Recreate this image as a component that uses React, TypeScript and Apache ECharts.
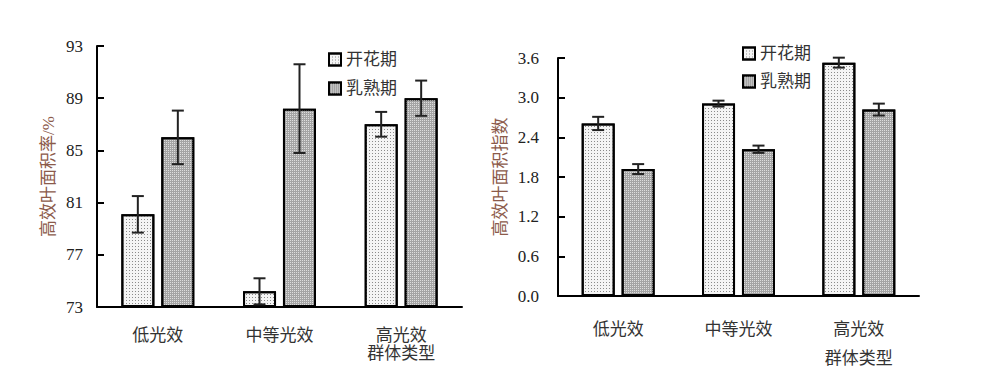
import React, { useEffect, useRef } from "react";
import * as echarts from "echarts";

const categories = ["低光效", "中等光效", "高光效"];
const seriesNames = ["开花期", "乳熟期"];

// Left chart: 高效叶面积率/%
const rateTicks = [73, 77, 81, 85, 89, 93];
const rateFlower = [80.1, 74.2, 87.0];
const rateFlowerErr = [1.4, 1.0, 0.95];
const rateMilk = [86.0, 88.2, 89.0];
const rateMilkErr = [2.05, 3.4, 1.35];

// Right chart: 高效叶面积指数
const indexTicks = [0.0, 0.6, 1.2, 1.8, 2.4, 3.0, 3.6];
const indexFlower = [2.61, 2.91, 3.53];
const indexFlowerErr = [0.1, 0.045, 0.075];
const indexMilk = [1.92, 2.22, 2.82];
const indexMilkErr = [0.075, 0.055, 0.09];

const SERIF = "Times New Roman, Liberation Serif, DejaVu Serif, serif";
const CJK = "Times New Roman, Liberation Serif, Noto Sans CJK SC, serif";

export default function App() {
  const ref = useRef<HTMLDivElement>(null);
  useEffect(() => {
    document.body.style.margin = "0";
    const chart = echarts.init(ref.current!, null, { renderer: "svg" });
    const base = rateTicks[0];
    const BAR_W = 33;
    const OFF = 20;

    const flowerStyle = {
      color: "#f4f4f4",
      borderColor: "#000",
      borderWidth: 2,
      decal: {
        symbol: "rect",
        symbolSize: 1,
        color: "#8a8a8a",
        dashArrayX: [1, 2],
        dashArrayY: [1, 2],
        rotation: 0,
      },
    };
    const milkStyle = {
      color: "#a4a4a4",
      borderColor: "#000",
      borderWidth: 2,
      decal: {
        symbol: "rect",
        symbolSize: 1,
        color: "#dedede",
        dashArrayX: [1, 1],
        dashArrayY: [1, 1],
        rotation: 0,
      },
    };

    const errSeries = (
      vals: number[],
      errs: number[],
      shift: number,
      offset: number,
      axisIdx: number
    ) => ({
      type: "custom",
      xAxisIndex: axisIdx,
      yAxisIndex: axisIdx,
      z: 10,
      silent: true,
      data: vals.map((v, i) => [i, v - shift, errs[i]]),
      renderItem: (params: any, api: any) => {
        const x = api.value(0);
        const v = api.value(1);
        const e = api.value(2);
        const top = api.coord([x, v + e]);
        const bot = api.coord([x, v - e]);
        const px = top[0] + offset;
        const cap = 6;
        const style = { stroke: "#222", lineWidth: 2 };
        return {
          type: "group",
          children: [
            { type: "line", shape: { x1: px, y1: top[1], x2: px, y2: bot[1] }, style },
            { type: "line", shape: { x1: px - cap, y1: top[1], x2: px + cap, y2: top[1] }, style },
            { type: "line", shape: { x1: px - cap, y1: bot[1], x2: px + cap, y2: bot[1] }, style },
          ],
        };
      },
    });

    const catAxis = (gridIndex: number, lineHeight: number) => ({
      type: "category",
      gridIndex,
      data: categories.map((c, i) => (i === 2 ? c + "\n群体类型" : c)),
      axisLine: { show: true, lineStyle: { color: "#000", width: 2 } },
      axisTick: { show: false },
      axisLabel: {
        margin: 19,
        fontSize: 17,
        color: "#333",
        fontFamily: CJK,
        lineHeight,
      },
    });

    const legendText = { fontSize: 17, color: "#333", fontFamily: CJK };

    chart.setOption({
      animation: false,
      legend: [
        {
          data: seriesNames,
          orient: "vertical",
          left: 328,
          top: 51,
          padding: 0,
          itemWidth: 12,
          itemHeight: 12,
          itemGap: 12,
          icon: "rect",
          textStyle: legendText,
          selectedMode: false,
        },
        {
          data: seriesNames,
          orient: "vertical",
          left: 742,
          top: 45,
          padding: 0,
          itemWidth: 12,
          itemHeight: 12,
          itemGap: 11,
          icon: "rect",
          textStyle: legendText,
          selectedMode: false,
        },
      ],
      grid: [
        { left: 97, top: 46, width: 365, height: 261, outerBoundsMode: "none", containLabel: false },
        { left: 558, top: 58, width: 361, height: 238, outerBoundsMode: "none", containLabel: false },
      ],
      xAxis: [catAxis(0, 18), catAxis(1, 29)],
      yAxis: [
        {
          type: "value",
          gridIndex: 0,
          min: 0,
          max: rateTicks[rateTicks.length - 1] - base,
          interval: rateTicks[1] - rateTicks[0],
          name: "高效叶面积率/%",
          nameLocation: "middle",
          nameGap: 40,
          nameTextStyle: { fontSize: 17, color: "#8b5a4a", fontFamily: CJK },
          axisLine: { show: true, lineStyle: { color: "#000", width: 2 } },
          axisTick: { show: true, inside: true, length: 7, lineStyle: { color: "#000", width: 2 } },
          splitLine: { show: false },
          axisLabel: {
            fontSize: 17,
            color: "#222",
            fontFamily: SERIF,
            margin: 14,
            formatter: (v: number) => String(Math.round(v + base)),
          },
        },
        {
          type: "value",
          gridIndex: 1,
          min: indexTicks[0],
          max: indexTicks[indexTicks.length - 1],
          interval: 0.6,
          name: "高效叶面积指数",
          nameLocation: "middle",
          nameGap: 49,
          nameTextStyle: { fontSize: 17, color: "#8b5a4a", fontFamily: CJK },
          axisLine: { show: true, lineStyle: { color: "#000", width: 2 } },
          axisTick: { show: true, inside: true, length: 7, lineStyle: { color: "#000", width: 2 } },
          splitLine: { show: false },
          axisLabel: {
            fontSize: 17,
            color: "#222",
            fontFamily: SERIF,
            margin: 19,
            formatter: (v: number) => v.toFixed(1),
          },
        },
      ],
      series: [
        {
          name: seriesNames[0],
          type: "bar",
          xAxisIndex: 0,
          yAxisIndex: 0,
          barWidth: BAR_W,
          barGap: "21%",
          data: rateFlower.map((v) => v - base),
          itemStyle: flowerStyle,
        },
        {
          name: seriesNames[1],
          type: "bar",
          xAxisIndex: 0,
          yAxisIndex: 0,
          barWidth: BAR_W,
          barGap: "21%",
          data: rateMilk.map((v) => v - base),
          itemStyle: milkStyle,
        },
        {
          name: seriesNames[0],
          type: "bar",
          xAxisIndex: 1,
          yAxisIndex: 1,
          barWidth: BAR_W,
          barGap: "21%",
          data: indexFlower,
          itemStyle: flowerStyle,
        },
        {
          name: seriesNames[1],
          type: "bar",
          xAxisIndex: 1,
          yAxisIndex: 1,
          barWidth: BAR_W,
          barGap: "21%",
          data: indexMilk,
          itemStyle: milkStyle,
        },
        errSeries(rateFlower, rateFlowerErr, base, -OFF, 0),
        errSeries(rateMilk, rateMilkErr, base, OFF, 0),
        errSeries(indexFlower, indexFlowerErr, 0, -OFF, 1),
        errSeries(indexMilk, indexMilkErr, 0, OFF, 1),
      ],
    });
    return () => chart.dispose();
  }, []);
  return <div ref={ref} style={{ width: 1000, height: 369 }} />;
}
